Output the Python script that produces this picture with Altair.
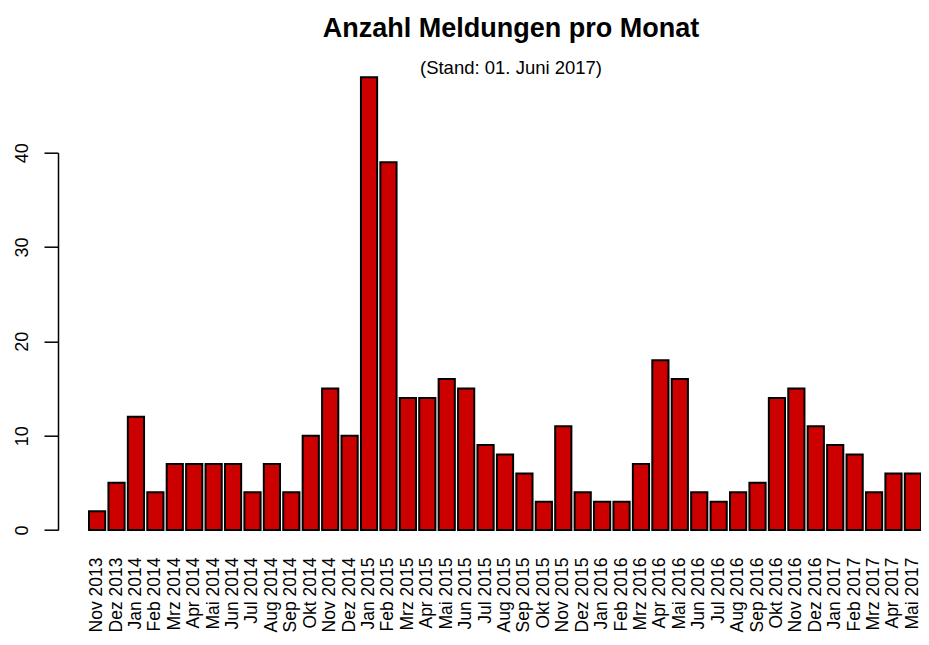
import altair as alt
import pandas as pd

months = [
    "Nov 2013", "Dez 2013", "Jan 2014", "Feb 2014", "Mrz 2014", "Apr 2014",
    "Mai 2014", "Jun 2014", "Jul 2014", "Aug 2014", "Sep 2014", "Okt 2014",
    "Nov 2014", "Dez 2014", "Jan 2015", "Feb 2015", "Mrz 2015", "Apr 2015",
    "Mai 2015", "Jun 2015", "Jul 2015", "Aug 2015", "Sep 2015", "Okt 2015",
    "Nov 2015", "Dez 2015", "Jan 2016", "Feb 2016", "Mrz 2016", "Apr 2016",
    "Mai 2016", "Jun 2016", "Jul 2016", "Aug 2016", "Sep 2016", "Okt 2016",
    "Nov 2016", "Dez 2016", "Jan 2017", "Feb 2017", "Mrz 2017", "Apr 2017",
    "Mai 2017",
]
counts = [
    2, 5, 12, 4, 7, 7,
    7, 7, 4, 7, 4, 10,
    15, 10, 48, 39, 14, 14,
    16, 15, 9, 8, 6, 3,
    11, 4, 3, 3, 7, 18,
    16, 4, 3, 4, 5, 14,
    15, 11, 9, 8, 4, 6,
    6,
]
y_ticks = [0, 10, 20, 30, 40]

df = pd.DataFrame({"Monat": months, "Anzahl": counts})

FONT = "Liberation Sans"

chart = (
    alt.Chart(df)
    .mark_bar(color="#CD0000", stroke="black", strokeWidth=2)
    .encode(
        x=alt.X(
            "Monat:N",
            sort=months,
            title=None,
            scale=alt.Scale(paddingInner=1 / 6, paddingOuter=0),
            axis=alt.Axis(
                labelAngle=270,
                labelAlign="right",
                labelBaseline="middle",
                labelPadding=27,
                domain=False,
                ticks=False,
                labelOverlap=False,
                labelFontSize=17.5,
                labelFont=FONT,
                labelColor="black",
            ),
        ),
        y=alt.Y(
            "Anzahl:Q",
            title=None,
            scale=alt.Scale(domain=[0, 40], nice=False),
            axis=alt.Axis(
                values=y_ticks,
                labelAngle=270,
                labelAlign="center",
                labelBaseline="alphabetic",
                tickSize=14,
                labelPadding=17,
                offset=31,
                grid=False,
                domainColor="black",
                tickColor="black",
                domainWidth=1.5,
                tickWidth=1.5,
                labelFontSize=18,
                labelFont=FONT,
                labelColor="black",
            ),
        ),
    )
    .properties(
        width=832,
        height=377.3,
        autosize="none",
        padding={"left": 81, "top": 144.7, "right": 0, "bottom": 104},
        background="white",
        title=alt.TitleParams(
            text="Anzahl Meldungen pro Monat",
            subtitle="(Stand: 01. Juni 2017)",
            font=FONT,
            subtitleFont=FONT,
            fontSize=27,
            subtitleFontSize=18.5,
            fontWeight="bold",
            color="black",
            subtitleColor="black",
            anchor="middle",
            frame="group",
            subtitlePadding=16,
            offset=-2.5,
            dx=6,
        ),
    )
    .configure_view(strokeWidth=0)
)

chart.save("out.html", embed_options={"renderer": "svg", "actions": False})
